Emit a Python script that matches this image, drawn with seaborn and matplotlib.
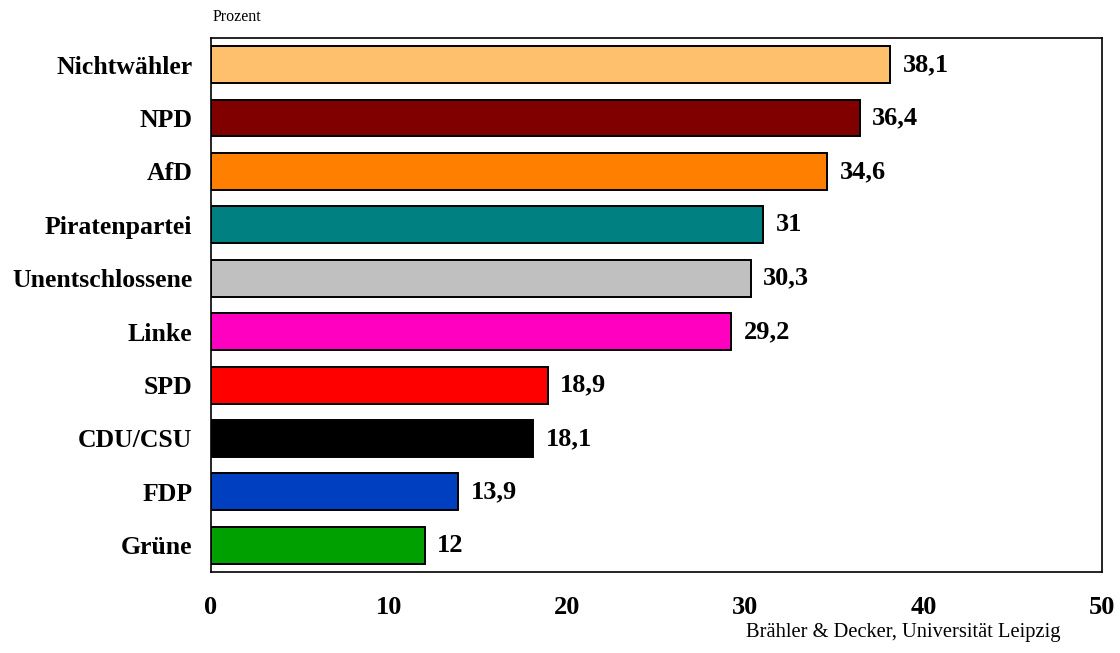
import matplotlib
matplotlib.use("Agg")
import matplotlib.pyplot as plt
import seaborn as sns
import pandas as pd

# data
parteien = ['Nichtwähler', 'NPD', 'AfD', 'Piratenpartei', 'Unentschlossene',
            'Linke', 'SPD', 'CDU/CSU', 'FDP', 'Grüne']
prozent = [38.1, 36.4, 34.6, 31, 30.3, 29.2, 18.9, 18.1, 13.9, 12]
labels = ['38,1', '36,4', '34,6', '31', '30,3', '29,2', '18,9', '18,1', '13,9', '12']
farben = ['#FFC06E', '#800000', '#FF8000', '#008080', '#C0C0C0',
          '#FF00C0', '#FF0000', '#000000', '#0040C0', '#00A000']

df = pd.DataFrame({'partei': parteien, 'wert': prozent})

sns.set_style('white')
plt.rcParams['font.family'] = ['Liberation Serif', 'DejaVu Serif']
plt.rcParams['text.color'] = 'black'
plt.rcParams['xtick.color'] = 'black'
plt.rcParams['ytick.color'] = 'black'

fig = plt.figure(figsize=(11.2, 6.53), dpi=100)
ax = fig.add_axes([0.188, 0.124, 0.796, 0.818])

sns.barplot(data=df, x='wert', y='partei', hue='partei', palette=farben,
            legend=False, orient='h', width=0.69, edgecolor='black',
            linewidth=1.4, saturation=1, ax=ax)

for bar, txt in zip(ax.patches, labels):
    ax.text(bar.get_width() + 0.7, bar.get_y() + bar.get_height() / 2, txt,
            va='center', ha='left', fontsize=19, fontweight='bold', color='black')

ax.set_xlim(0, 50)
ax.set_ylim(9.5, -0.5)
ax.set_xticks([0, 10, 20, 30, 40, 50])
ax.set_xlabel('')
ax.set_ylabel('')
ax.tick_params(axis='both', length=0, labelcolor='black')
ax.tick_params(axis='x', pad=17, labelsize=19)
ax.tick_params(axis='y', pad=13, labelsize=18.5)
for lab in ax.get_xticklabels() + ax.get_yticklabels():
    lab.set_fontweight('bold')
for sp in ax.spines.values():
    sp.set_visible(True)
    sp.set_color('black')
    sp.set_linewidth(1.2)

fig.text(0.190, 0.962, 'Prozent', fontsize=11.5, ha='left', va='bottom')
fig.text(0.947, 0.032, 'Brähler & Decker, Universität Leipzig', fontsize=14.8,
         ha='right', va='center')

fig.savefig('out.png', dpi=100)
